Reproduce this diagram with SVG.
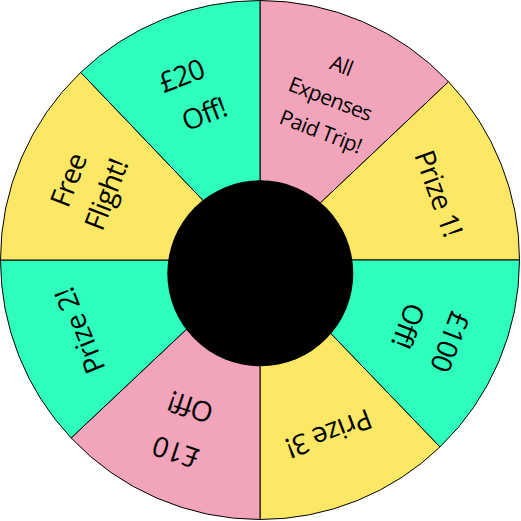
<svg xmlns="http://www.w3.org/2000/svg" width="521" height="521" viewBox="0 0 521 521">
<style>
.seg{stroke:#000;stroke-width:1;stroke-linejoin:round}
.pink{fill:#F2A4BA}
.yellow{fill:#FDE866}
.green{fill:#2EFFBD}
.big{font-family:"Open Sans","Noto Sans",sans-serif;font-size:28px;letter-spacing:-0.7px;fill:#000;text-anchor:middle}
.small{font-family:"Open Sans","Noto Sans",sans-serif;font-size:21px;letter-spacing:-0.6px;fill:#000;text-anchor:middle}
</style>
<rect width="521" height="521" fill="#fff"/>
<g id="seg-all-expenses">
<path class="seg pink" d="M260 260 L260 0.5 A259.5 259.5 0 0 1 448.55 81.7 Z"/>
<g transform="translate(329.5 101) rotate(21)">
<text class="small" x="-1.5" y="-30">All</text>
<text class="small" x="0" y="5">Expenses</text>
<text class="small" x="2.7" y="39">Paid Trip!</text>
</g>
</g>
<g id="seg-prize1">
<path class="seg yellow" d="M260 260 L448.55 81.7 A259.5 259.5 0 0 1 519.5 260 Z"/>
<g transform="translate(438.3 193.3) rotate(70)"><text class="big" y="9.7">Prize 1!</text></g>
</g>
<g id="seg-100off">
<path class="seg green" d="M260 260 L519.5 260 A259.5 259.5 0 0 1 439.94 446.98 Z"/>
<g transform="translate(429.2 333.7) rotate(111)">
<text class="big" y="-12.4">£100</text>
<text class="big" y="32.4">Off!</text>
</g>
</g>
<g id="seg-prize3">
<path class="seg yellow" d="M260 260 L439.94 446.98 A259.5 259.5 0 0 1 260 519.5 Z"/>
<g transform="translate(329 433.3) rotate(159)"><text class="big" y="9.7">Prize 3!</text></g>
</g>
<g id="seg-10off">
<path class="seg pink" d="M260 260 L260 519.5 A259.5 259.5 0 0 1 71.14 437.97 Z"/>
<g transform="translate(183.2 429.8) rotate(198.4)">
<text class="big" y="-13.7">£10</text>
<text class="big" y="33.7">Off!</text>
</g>
</g>
<g id="seg-prize2">
<path class="seg green" d="M260 260 L71.14 437.97 A259.5 259.5 0 0 1 0.5 260 Z"/>
<g transform="translate(80 330.7) rotate(-112)"><text class="big" y="9.7">Prize 2!</text></g>
</g>
<g id="seg-free-flight">
<path class="seg yellow" d="M260 260 L0.5 260 A259.5 259.5 0 0 1 80.72 72.39 Z"/>
<g transform="translate(88.7 187.8) rotate(-69)">
<text class="big" y="-11.8">Free</text>
<text class="big" y="28.6">Flight!</text>
</g>
</g>
<g id="seg-20off">
<path class="seg green" d="M260 260 L80.72 72.39 A259.5 259.5 0 0 1 260 0.5 Z"/>
<g transform="translate(192.8 94.8) rotate(-21)">
<text class="big" x="-3.6" y="-11.8">£20</text>
<text class="big" x="3.6" y="31.9">Off!</text>
</g>
</g>
<g id="hub">
<circle cx="260.3" cy="273.3" r="93" fill="#000"/>
</g>
</svg>
